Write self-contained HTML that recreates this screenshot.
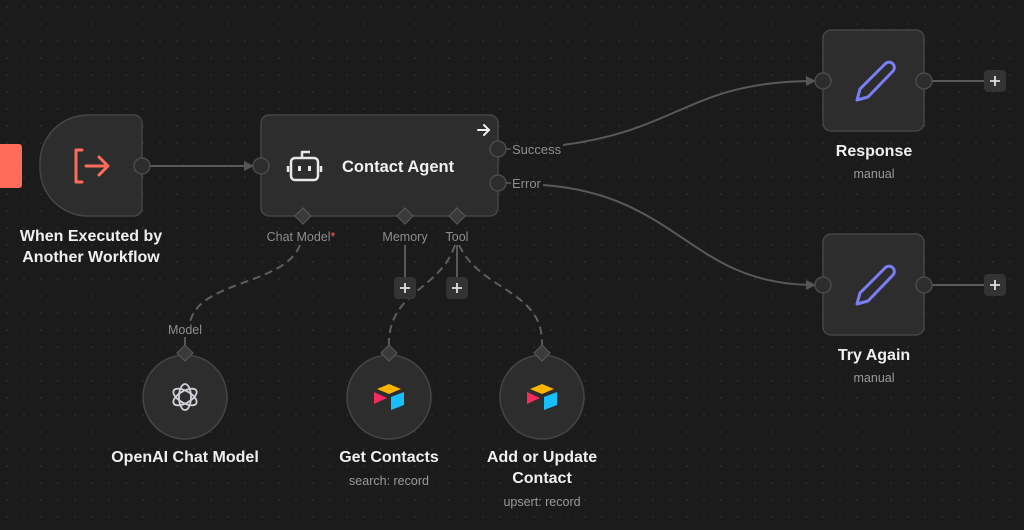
<!DOCTYPE html>
<html><head><meta charset="utf-8"><style>
html,body{margin:0;padding:0;background:#1b1b1b;width:1024px;height:530px;overflow:hidden}
svg{display:block}
text{font-family:"Liberation Sans",sans-serif}
</style></head><body>
<svg width="1024" height="530" viewBox="0 0 1024 530" xmlns="http://www.w3.org/2000/svg">
<defs>
<pattern id="dots" width="17" height="17" patternUnits="userSpaceOnUse" x="6" y="6">
<circle cx="1" cy="1" r="0.8" fill="#343434"/>
</pattern>
<marker id="ar" viewBox="0 0 10 10" refX="9" refY="5" markerWidth="10" markerHeight="10" markerUnits="userSpaceOnUse" orient="auto">
<path d="M0,0 L10,5 L0,10 z" fill="#555"/>
</marker>
</defs>
<rect width="1024" height="530" fill="#1b1b1b"/>
<rect width="1024" height="530" fill="url(#dots)"/>

<rect x="-6" y="144" width="28" height="44" rx="3" fill="#ff6d5a"/>

<g stroke="#595959" stroke-width="2" fill="none">
<line x1="150" y1="166" x2="253" y2="166" marker-end="url(#ar)"/>
<path d="M563,145 C680,130 690,81 815,81" marker-end="url(#ar)"/>
<path d="M543,185 C680,195 690,285 815,285" marker-end="url(#ar)"/>
<line x1="932" y1="81" x2="985" y2="81"/>
<line x1="932" y1="285" x2="985" y2="285"/>
<line x1="405" y1="245" x2="405" y2="277"/>
<line x1="457" y1="245" x2="457" y2="277"/>
<line x1="185" y1="337" x2="185" y2="345"/>
<line x1="389" y1="340" x2="389" y2="345"/>
<line x1="542" y1="340" x2="542" y2="345"/>
</g>
<g stroke="#5e5e5e" stroke-width="2" fill="none" stroke-dasharray="8,5">
<path d="M300,245 C285,285 200,280 190,322"/>
<path d="M455,245 C440,290 392,290 389,340"/>
<path d="M459,245 C480,290 540,290 542,340"/>
</g>

<path d="M88,115 H134 a8,8 0 0 1 8,8 V208 a8,8 0 0 1 -8,8 H88 a48,48 0 0 1 -48,-48 V163 a48,48 0 0 1 48,-48 z" fill="#2d2d2d" stroke="#454545" stroke-width="1.5"/>
<g stroke="#ff6d5a" stroke-width="3" fill="none" stroke-linecap="round" stroke-linejoin="round">
<path d="M82,150 H76 V182 H82"/>
<path d="M86,166 H107 M99,157 L108,166 L99,175"/>
</g>
<circle cx="142" cy="166" r="8" fill="#2d2d2d" stroke="#4a4a4a" stroke-width="1.5"/>
<text x="91" y="241" fill="#f0f0f0" font-size="16" font-weight="bold" text-anchor="middle">When Executed by</text>
<text x="91" y="262" fill="#f0f0f0" font-size="16" font-weight="bold" text-anchor="middle">Another Workflow</text>

<rect x="261" y="115" width="237" height="101" rx="8" fill="#2d2d2d" stroke="#454545" stroke-width="1.5"/>
<circle cx="261" cy="166" r="8" fill="#2d2d2d" stroke="#4a4a4a" stroke-width="1.5"/>
<g stroke="#e8e8e8" stroke-width="2.5" fill="none" stroke-linejoin="round">
<rect x="291" y="158" width="27" height="22" rx="4"/>
<path d="M302,158 V152 H310"/>
<path d="M288,166 V172 M321,166 V172"/>
</g>
<rect x="298" y="166" width="3" height="5" fill="#e8e8e8"/>
<rect x="308" y="166" width="3" height="5" fill="#e8e8e8"/>
<text x="342" y="172" fill="#f0f0f0" font-size="16.5" font-weight="bold">Contact Agent</text>
<path d="M478,130 H489 M484,125 L489,130 L484,135" stroke="#f0f0f0" stroke-width="2" fill="none" stroke-linecap="round"/>
<circle cx="498" cy="149" r="8" fill="#2d2d2d" stroke="#4a4a4a" stroke-width="1.5"/>
<circle cx="498" cy="183" r="8" fill="#2d2d2d" stroke="#4a4a4a" stroke-width="1.5"/>
<line x1="506" y1="149" x2="511" y2="149" stroke="#595959" stroke-width="1.5"/>
<line x1="506" y1="183" x2="511" y2="183" stroke="#595959" stroke-width="1.5"/>
<text x="512" y="154" fill="#8e8e8e" font-size="13">Success</text>
<text x="512" y="188" fill="#8e8e8e" font-size="13">Error</text>
<g fill="#3a3a3a" stroke="#555" stroke-width="1.2">
<path d="M303,208 l8,8 l-8,8 l-8,-8 z"/>
<path d="M405,208 l8,8 l-8,8 l-8,-8 z"/>
<path d="M457,208 l8,8 l-8,8 l-8,-8 z"/>
</g>
<text x="301" y="241" fill="#8e8e8e" font-size="12.5" text-anchor="middle">Chat Model<tspan fill="#ff5a5a">*</tspan></text>
<text x="405" y="241" fill="#8e8e8e" font-size="12.5" text-anchor="middle">Memory</text>
<text x="457" y="241" fill="#8e8e8e" font-size="12.5" text-anchor="middle">Tool</text>

<g>
<rect x="394" y="277" width="22" height="22" rx="4" fill="#333"/>
<rect x="446" y="277" width="22" height="22" rx="4" fill="#333"/>
<rect x="984" y="70" width="22" height="22" rx="4" fill="#333"/>
<rect x="984" y="274" width="22" height="22" rx="4" fill="#333"/>
</g>
<g stroke="#e0e0e0" stroke-width="1.8">
<path d="M400,288 h10 M405,283 v10"/>
<path d="M452,288 h10 M457,283 v10"/>
<path d="M990,81 h10 M995,76 v10"/>
<path d="M990,285 h10 M995,280 v10"/>
</g>

<g fill="#2d2d2d" stroke="#454545" stroke-width="1.5">
<circle cx="185" cy="397" r="42"/>
<circle cx="389" cy="397" r="42"/>
<circle cx="542" cy="397" r="42"/>
</g>
<g fill="#3a3a3a" stroke="#555" stroke-width="1.2">
<path d="M185,345 l8,8 l-8,8 l-8,-8 z"/>
<path d="M389,345 l8,8 l-8,8 l-8,-8 z"/>
<path d="M542,345 l8,8 l-8,8 l-8,-8 z"/>
</g>
<text x="185" y="334" fill="#8e8e8e" font-size="12.5" text-anchor="middle">Model</text>
<g stroke="#d0d0d8" stroke-width="1.8" fill="none">
<ellipse cx="185" cy="397" rx="6" ry="13"/>
<ellipse cx="185" cy="397" rx="6" ry="13" transform="rotate(60 185 397)"/>
<ellipse cx="185" cy="397" rx="6" ry="13" transform="rotate(120 185 397)"/>
</g>
<g>
<path d="M389,384 L401,389 L389,394 L377,389 z" fill="#fcb400"/>
<path d="M391,397 L404,392 V405 L391,410 z" fill="#18bfff"/>
<path d="M374,392 L387,398 L374,404 z" fill="#f82b60"/>
</g>
<g transform="translate(153,0)">
<path d="M389,384 L401,389 L389,394 L377,389 z" fill="#fcb400"/>
<path d="M391,397 L404,392 V405 L391,410 z" fill="#18bfff"/>
<path d="M374,392 L387,398 L374,404 z" fill="#f82b60"/>
</g>
<text x="185" y="462" fill="#f0f0f0" font-size="16" font-weight="bold" text-anchor="middle">OpenAI Chat Model</text>
<text x="389" y="462" fill="#f0f0f0" font-size="16" font-weight="bold" text-anchor="middle">Get Contacts</text>
<text x="389" y="485" fill="#9a9a9a" font-size="12.5" text-anchor="middle">search: record</text>
<text x="542" y="462" fill="#f0f0f0" font-size="16" font-weight="bold" text-anchor="middle">Add or Update</text>
<text x="542" y="483" fill="#f0f0f0" font-size="16" font-weight="bold" text-anchor="middle">Contact</text>
<text x="542" y="506" fill="#9a9a9a" font-size="12.5" text-anchor="middle">upsert: record</text>

<g fill="#2d2d2d" stroke="#454545" stroke-width="1.5">
<rect x="823" y="30" width="101" height="101" rx="8"/>
<rect x="823" y="234" width="101" height="101" rx="8"/>
</g>
<g fill="#2d2d2d" stroke="#4a4a4a" stroke-width="1.5">
<circle cx="823" cy="81" r="8"/><circle cx="924" cy="81" r="8"/>
<circle cx="823" cy="285" r="8"/><circle cx="924" cy="285" r="8"/>
</g>
<g stroke="#7b7ff5" stroke-width="3" fill="none" stroke-linejoin="round">
<path d="M885,64 a5,5 0 0 1 8,7 L868,97 L857,100 L860,89 z"/>
<path d="M885,268 a5,5 0 0 1 8,7 L868,301 L857,304 L860,293 z"/>
</g>
<text x="874" y="156" fill="#f0f0f0" font-size="16" font-weight="bold" text-anchor="middle">Response</text>
<text x="874" y="178" fill="#9a9a9a" font-size="12.5" text-anchor="middle">manual</text>
<text x="874" y="360" fill="#f0f0f0" font-size="16" font-weight="bold" text-anchor="middle">Try Again</text>
<text x="874" y="382" fill="#9a9a9a" font-size="12.5" text-anchor="middle">manual</text>
</svg>
</body></html>
